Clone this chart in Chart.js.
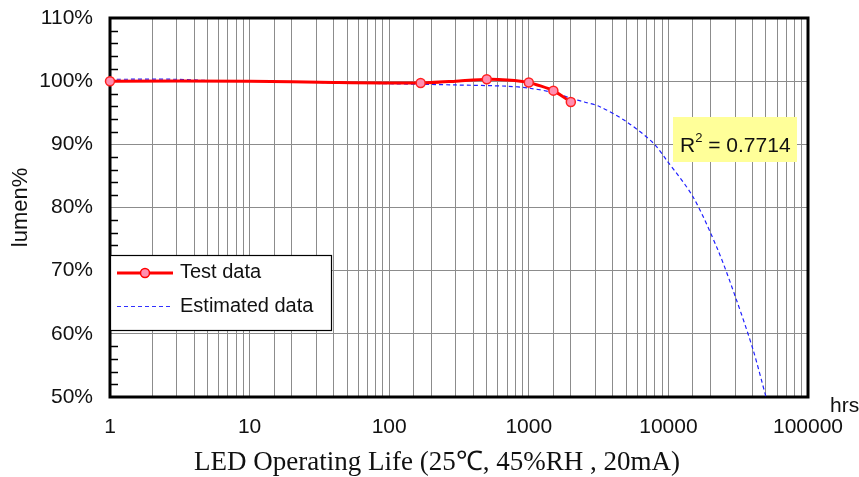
<!DOCTYPE html>
<html>
<head>
<meta charset="utf-8">
<script src="https://cdn.jsdelivr.net/npm/chart.js@4.4.0/dist/chart.umd.min.js"></script>
<style>
html, body { margin: 0; padding: 0; background: #fff; }
</style>
</head>
<body>
<canvas id="lifeGraph" width="859" height="477"></canvas>
<script>
// test data (hours, lumen %), markers only on the measured points
var testHours  = [1, 10, 40, 168, 300, 500, 700, 1000, 1500, 2000];
var testLumen  = [100, 100, 99.8, 99.7, 100, 100.3, 100.2, 99.8, 98.5, 96.7];
var testMarked = [1, 0, 0, 1, 0, 1, 0, 1, 1, 1];

// estimated curve
var estHours = [1, 3, 5, 10, 30, 100, 300, 700, 1000, 1500, 2000, 2500, 3200, 5000, 7800, 9700, 15000, 22600, 30700, 40400, 50000];
var estLumen = [100.3, 100.3, 100.1, 100.0, 99.8, 99.6, 99.4, 99.2, 98.9, 98.2, 97.3, 96.7, 96.0, 93.6, 90.2, 87.5, 81.7, 73.3, 65.4, 57.5, 50.0];

var seriesNames = ['Test data', 'Estimated data'];
var xTickLabels = [1, 10, 100, 1000, 10000, 100000];
var yTicks = [50, 60, 70, 80, 90, 100, 110];
var rSquared = '0.7714';
var xTitle = 'LED Operating Life (25\u2103, 45%RH , 20mA)';

function pairs(xs, ys) {
    var out = [];
    for (var i = 0; i < xs.length; i++) out.push({x: xs[i], y: ys[i]});
    return out;
}

var sans = 'Arial, "Liberation Sans", sans-serif';
var serif = '"Times New Roman", "Liberation Serif", serif';

var extras = {
    id: 'extras',
    beforeDatasetsDraw: function(chart) {
        var ctx = chart.ctx, a = chart.chartArea, ys = chart.scales.y;
        ctx.save();
        // minor ticks on the left axis
        ctx.strokeStyle = '#000';
        ctx.lineWidth = 1.5;
        for (var v = yTicks[0]; v <= yTicks[yTicks.length - 1]; v += 2) {
            if (v % 10 === 0) continue;
            var py = Math.round(ys.getPixelForValue(v)) + 0.5;
            ctx.beginPath();
            ctx.moveTo(a.left, py);
            ctx.lineTo(a.left + 8, py);
            ctx.stroke();
        }
        // frame
        ctx.lineWidth = 3;
        ctx.strokeRect(a.left, a.top, a.right - a.left, a.bottom - a.top);
        ctx.restore();
    },
    afterDraw: function(chart) {
        var ctx = chart.ctx, a = chart.chartArea;
        ctx.save();
        // legend box
        var lx = a.left, ly = 255, lw = 221, lh = 75;
        ctx.fillStyle = '#fff';
        ctx.fillRect(lx, ly, lw, lh);
        ctx.strokeStyle = '#000';
        ctx.lineWidth = 1.2;
        ctx.strokeRect(lx + 0.5, ly + 0.5, lw, lh);

        ctx.strokeStyle = '#ff0000';
        ctx.lineWidth = 3;
        ctx.beginPath();
        ctx.moveTo(lx + 7, ly + 18);
        ctx.lineTo(lx + 63, ly + 18);
        ctx.stroke();
        ctx.fillStyle = '#ff8fb0';
        ctx.lineWidth = 1.5;
        ctx.beginPath();
        ctx.arc(lx + 35, ly + 18, 4.5, 0, Math.PI * 2);
        ctx.fill();
        ctx.stroke();

        ctx.strokeStyle = '#3030ff';
        ctx.lineWidth = 1;
        ctx.setLineDash([4, 3]);
        ctx.beginPath();
        ctx.moveTo(lx + 7, ly + 51.5);
        ctx.lineTo(lx + 63, ly + 51.5);
        ctx.stroke();
        ctx.setLineDash([]);

        ctx.fillStyle = '#111';
        ctx.font = '20px ' + sans;
        ctx.textBaseline = 'middle';
        ctx.textAlign = 'left';
        ctx.fillText(seriesNames[0], lx + 70, ly + 17);
        ctx.fillText(seriesNames[1], lx + 70, ly + 51);

        // R^2 label
        ctx.fillStyle = '#ffff99';
        ctx.fillRect(673, 117, 124, 45);
        ctx.fillStyle = '#111';
        ctx.textBaseline = 'alphabetic';
        ctx.font = '21px ' + sans;
        var tx = 680, ty = 152;
        ctx.fillText('R', tx, ty);
        tx += ctx.measureText('R').width;
        ctx.font = '13px ' + sans;
        ctx.fillText('2', tx, ty - 10);
        tx += ctx.measureText('2').width;
        ctx.font = '21px ' + sans;
        ctx.fillText(' = ' + rSquared, tx, ty);

        // unit label
        ctx.font = '21px ' + sans;
        ctx.fillText('hrs', 830, 412);

        // x axis title
        ctx.font = '27px ' + serif;
        ctx.textAlign = 'center';
        ctx.textBaseline = 'middle';
        ctx.fillText(xTitle, 437, 463);
        ctx.restore();
    }
};

var ctx = document.getElementById('lifeGraph').getContext('2d');
var lifeChart = new Chart(ctx, {
    type: 'line',
    data: {
        datasets: [
            {
                label: seriesNames[0],
                data: pairs(testHours, testLumen),
                borderColor: '#ff0000',
                borderWidth: 3,
                backgroundColor: '#ff8fb0',
                pointBackgroundColor: '#ff8fb0',
                pointBorderColor: '#ff2020',
                pointBorderWidth: 1.5,
                pointRadius: testMarked.map(function(m) { return m ? 4.5 : 0; }),
                tension: 0.2,
                clip: false,
                order: 0
            },
            {
                label: seriesNames[1],
                data: pairs(estHours, estLumen),
                borderColor: '#2020ff',
                borderWidth: 1.2,
                borderDash: [4, 3],
                pointRadius: 0,
                tension: 0.3,
                clip: false,
                order: 1
            }
        ]
    },
    options: {
        responsive: false,
        animation: false,
        devicePixelRatio: 1,
        layout: { padding: { top: 18, right: 51, left: 0, bottom: 0 } },
        plugins: {
            legend: { display: false },
            tooltip: { enabled: false }
        },
        scales: {
            x: {
                type: 'logarithmic',
                min: 1,
                max: 100000,
                border: { display: false },
                grid: { color: '#8c8c8c', lineWidth: 1, drawTicks: false },
                afterFit: function(s) { s.height = 80; s.paddingLeft = 0; s.paddingRight = 0; },
                ticks: {
                    autoSkip: false,
                    maxRotation: 0,
                    padding: 18,
                    color: '#111',
                    font: { size: 21, family: sans },
                    callback: function(v) {
                        return xTickLabels.indexOf(v) >= 0 ? String(v) : '';
                    }
                }
            },
            y: {
                min: 50,
                max: 110,
                border: { display: false },
                grid: { color: '#8c8c8c', lineWidth: 1, drawTicks: false },
                afterFit: function(s) { s.width = 110; s.paddingTop = 0; s.paddingBottom = 0; },
                ticks: {
                    stepSize: 10,
                    padding: 17,
                    color: '#111',
                    font: { size: 21, family: sans },
                    callback: function(v) { return yTicks.indexOf(v) >= 0 ? v + '%' : ''; }
                },
                title: {
                    display: true,
                    text: 'lumen%',
                    color: '#111',
                    font: { size: 22, family: sans },
                    padding: { top: 8, bottom: 0 }
                }
            }
        }
    },
    plugins: [extras]
});
</script>
</body>
</html>
